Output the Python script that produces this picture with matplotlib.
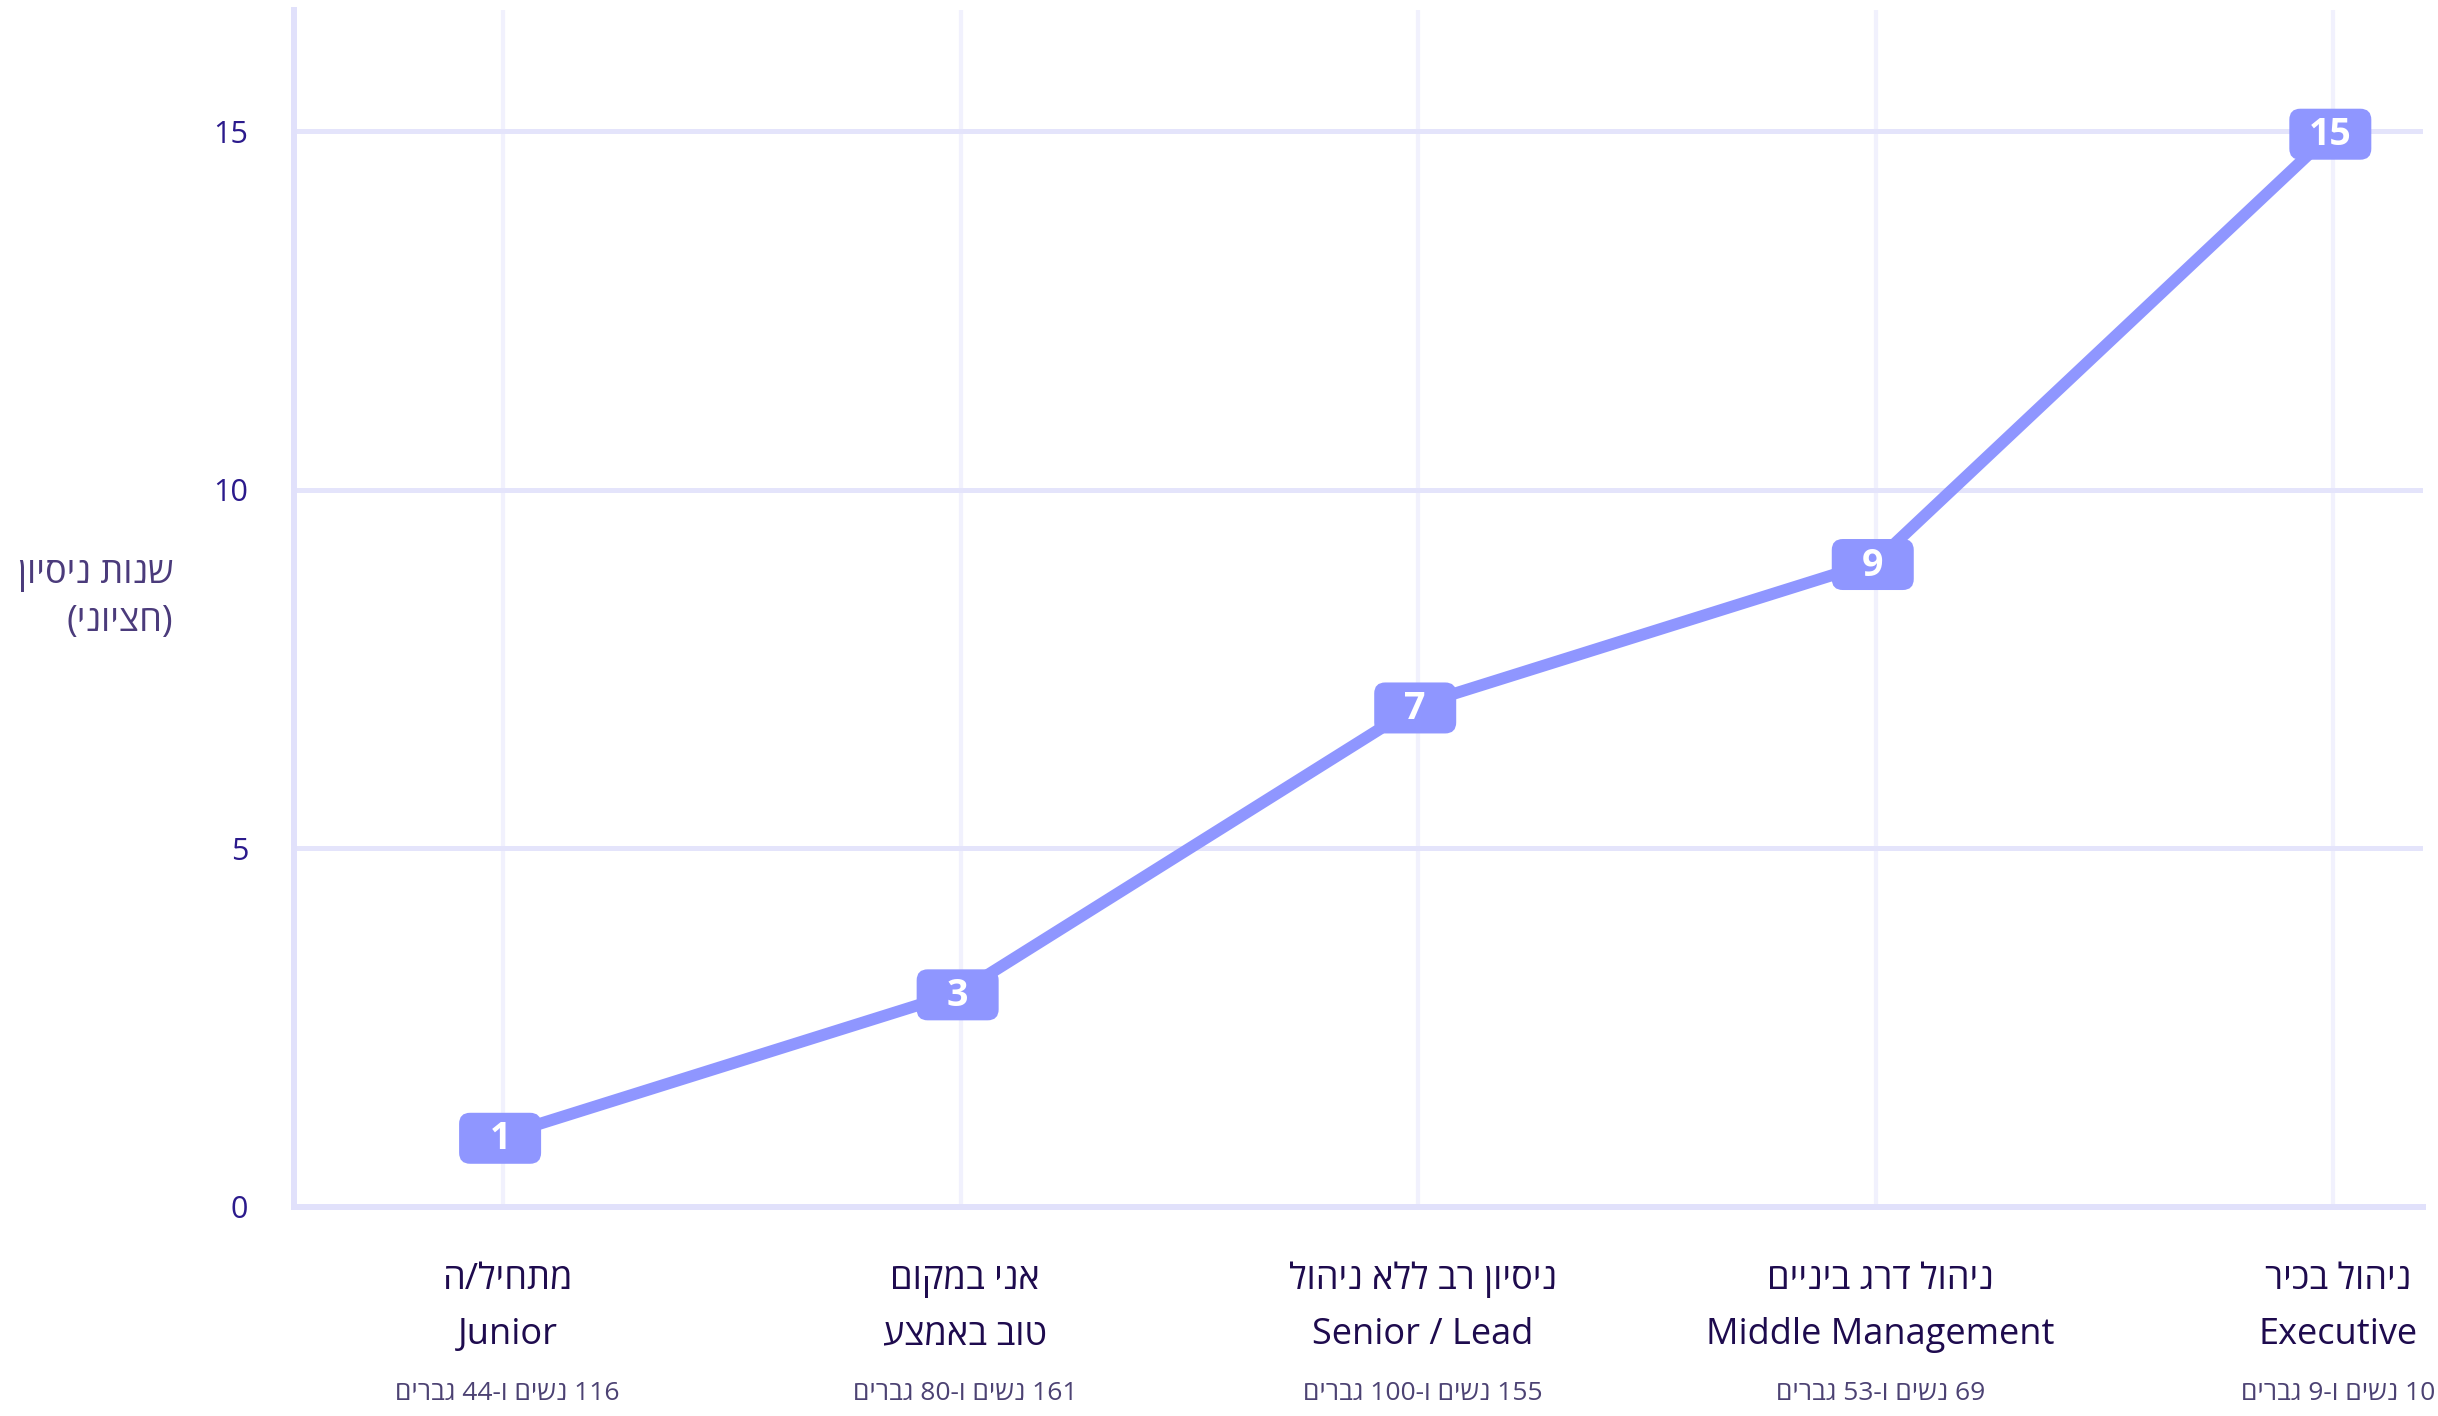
import re
import matplotlib
matplotlib.use("Agg")
import matplotlib.pyplot as plt
import matplotlib.transforms as mtransforms
from matplotlib.patches import FancyBboxPatch

plt.rcParams['font.family'] = ['Open Sans', 'DejaVu Sans']

# ---------------- data ----------------
levels_he = ["מתחיל/ה", "אני במקום\nטוב באמצע", "ניסיון רב ללא ניהול", "ניהול דרג ביניים", "ניהול בכיר"]
levels_en = ["Junior", "", "Senior / Lead", "Middle Management", "Executive"]
median_years = [1, 3, 7, 9, 15]
women = [116, 161, 155, 69, 10]
men = [44, 80, 100, 53, 9]
y_ticks = [0, 5, 10, 15]
y_label = "שנות ניסיון\n(חציוני)"


def vis(s):
    """Convert logical RTL text to visual (left-to-right) order for matplotlib."""
    if not re.search('[\u0590-\u05FF]', s):
        return s
    r = s[::-1]
    r = r.translate(str.maketrans({'(': ')', ')': '('}))
    r = re.sub(r'[0-9A-Za-z]+', lambda m: m.group(0)[::-1], r)
    return r


def vis_lines(s):
    return "\n".join(vis(l) for l in s.split("\n"))


W, H = 2438, 1416
fig = plt.figure(figsize=(W / 100, H / 100), dpi=100)
ax = fig.add_axes([294 / W, 209 / H, (2423 - 294) / W, (1406 - 209) / H])

LINE = "#8f96ff"
HGRID = "#e4e4fb"
VGRID = "#f1f1fd"
SPINE = "#e1e1fb"

x = list(range(len(median_years)))
ax.plot(x, median_years, color=LINE, lw=8.5, solid_capstyle='round', zorder=3)

ax.set_xlim(-0.457, 4.196)
ax.set_ylim(0, 16.69)

ax.set_yticks(y_ticks)
ax.set_yticklabels([str(t) for t in y_ticks], fontsize=22, color="#2b1a8c")
ax.set_xticks(x)
ax.set_xticklabels([])
ax.tick_params(axis='both', length=0)
ax.tick_params(axis='y', pad=33)

for yt in y_ticks[1:]:
    ax.axhline(yt, color=HGRID, lw=3.6, zorder=1)
for xi in x:
    ax.axvline(xi, color=VGRID, lw=3.0, zorder=0.5)

for s in ['top', 'right']:
    ax.spines[s].set_visible(False)
for s in ['left', 'bottom']:
    ax.spines[s].set_color(SPINE)
    ax.spines[s].set_linewidth(4.3)

# badges
for xi, v in zip(x, median_years):
    tr = fig.dpi_scale_trans + mtransforms.ScaledTranslation(xi, v, ax.transData)
    bw, bh = 0.82, 0.51
    dx, dy = -0.03, -0.03
    box = FancyBboxPatch((-bw / 2 + 0.1 + dx, -bh / 2 + 0.1 + dy), bw - 0.2, bh - 0.2,
                         boxstyle="round,pad=0.1,rounding_size=0.11",
                         transform=tr, facecolor=LINE, edgecolor='none', zorder=4)
    ax.add_patch(box)
    ax.text(dx, dy - 0.01, str(v), transform=tr, ha='center', va='center',
            fontsize=27, fontweight='bold', color='white', zorder=5)

# x category labels
blend = mtransforms.blended_transform_factory(ax.transData, fig.transFigure)
for xi, he, en, w, m in zip(x, levels_he, levels_en, women, men):
    he_lines = he.split("\n")
    lines = [vis(l) for l in he_lines] + ([en] if en else [])
    ys = [136, 81]
    for l, yy in zip(lines, ys):
        ax.text(xi + 0.01, yy / H, l, transform=blend, ha='center', va='center',
                fontsize=26, color="#1e0b4e", clip_on=False)
    sub = vis(f"{w} נשים ו-{m} גברים")
    ax.text(xi + 0.01, 22 / H, sub, transform=blend, ha='center', va='center',
            fontsize=19, color="#4c4273", clip_on=False)

fig.text(173 / W, (H - 598) / H, vis_lines(y_label), ha='right', va='center',
         multialignment='right', fontsize=26, color="#4b3b7b", linespacing=1.45)

fig.savefig("out.png", dpi=100)
